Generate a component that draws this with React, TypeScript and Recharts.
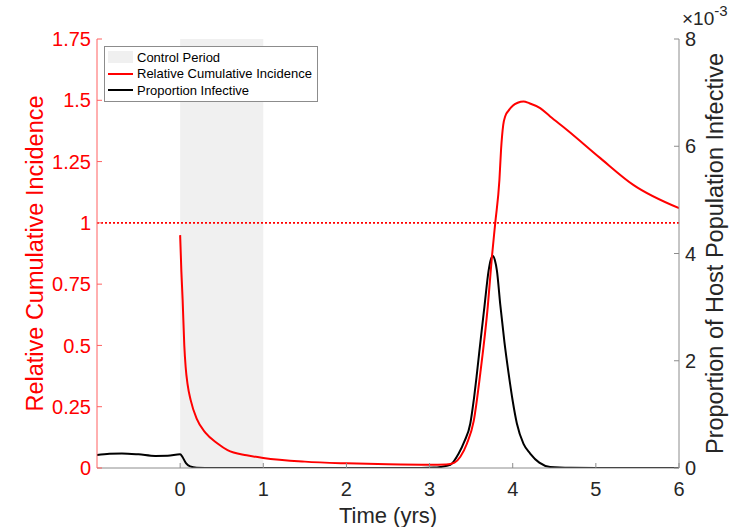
import React from "react";
import {
  Legend,
  Line,
  LineChart,
  ReferenceArea,
  ReferenceLine,
  XAxis,
  YAxis,
} from "recharts";

// relative cumulative incidence (left axis), starts when control begins
const ciTime = [
  0, 0.015, 0.03, 0.05, 0.066, 0.09, 0.126, 0.2, 0.306, 0.45, 0.57, 0.8, 1.0,
  1.5, 2.0, 2.5, 3.0, 3.2, 3.3, 3.37, 3.45, 3.53, 3.61, 3.7, 3.75, 3.79, 3.84,
  3.86, 3.886, 3.91, 3.95, 4.0, 4.06, 4.13, 4.2, 4.33, 4.45, 4.65, 5.05, 5.45,
  6.0,
];
const ciValue = [
  0.95, 0.8, 0.686, 0.5, 0.413, 0.34, 0.278, 0.2, 0.143, 0.1, 0.073, 0.052,
  0.041, 0.026, 0.019, 0.015, 0.013, 0.014, 0.022, 0.046, 0.1, 0.19, 0.386,
  0.658, 0.862, 1.0, 1.175, 1.3, 1.4, 1.435, 1.458, 1.478, 1.49, 1.495, 1.488,
  1.468, 1.434, 1.38, 1.265, 1.155, 1.06,
];

// proportion infective, in units of 1e-3 (right axis)
const infTime = [
  -1, -0.85, -0.7, -0.5, -0.3, -0.15, 0, 0.03, 0.07, 0.12, 0.2, 0.4, 1, 2, 2.9,
  3.05, 3.13, 3.25, 3.35, 3.42, 3.49, 3.53, 3.57, 3.615, 3.66, 3.71, 3.735,
  3.762, 3.785, 3.81, 3.85, 3.9, 3.95, 4.0, 4.05, 4.13, 4.21, 4.32, 4.45, 4.7,
  5, 6,
];
const infValue = [
  0.243, 0.265, 0.272, 0.255, 0.226, 0.228, 0.255, 0.2, 0.09, 0.03, 0.006,
  0.001, 0, 0, 0.002, 0.008, 0.02, 0.06, 0.27, 0.5, 0.83, 1.25, 1.77, 2.4,
  3.01, 3.68, 3.88, 3.955, 3.88, 3.68, 3.05, 2.35, 1.77, 1.25, 0.83, 0.45,
  0.27, 0.1, 0.02, 0.003, 0, 0,
];

const xTicks = [0, 1, 2, 3, 4, 5, 6];
const leftTicks = [0, 0.25, 0.5, 0.75, 1, 1.25, 1.5, 1.75];
const rightTicks = [0, 2, 4, 6, 8];
const controlPeriod = [0, 1];
const threshold = 1;

const ciData = ciTime.map((t, i) => ({ t, v: ciValue[i] }));
const infData = infTime.map((t, i) => ({ t, v: infValue[i] }));

const font = "'Liberation Sans', Arial, Helvetica, sans-serif";
const axisGray = "#8c8c8c";
const textDark = "#262626";

function LegendBox() {
  const row = { display: "flex", alignItems: "center", height: 16.5 };
  const label = { marginLeft: 4, whiteSpace: "nowrap" as const };
  return (
    <div
      style={{
        border: `1px solid ${axisGray}`,
        background: "#fff",
        padding: "2px 5px 2px 3px",
        fontFamily: font,
        fontSize: 13,
        color: "#000",
      }}
    >
      <div style={row}>
        <span style={{ width: 25, height: 12, background: "#f0f0f0" }} />
        <span style={label}>Control Period</span>
      </div>
      <div style={row}>
        <span style={{ width: 25, height: 2, background: "#ff0000" }} />
        <span style={label}>Relative Cumulative Incidence</span>
      </div>
      <div style={row}>
        <span style={{ width: 25, height: 2, background: "#000" }} />
        <span style={label}>Proportion Infective</span>
      </div>
    </div>
  );
}

export default function App() {
  return (
    <div style={{ position: "absolute", left: 0, top: 0 }}>
      <LineChart
        width={750}
        height={527}
        margin={{ top: 39, right: 0, bottom: 0, left: 0 }}
        style={{ fontFamily: font }}
      >
        <ReferenceArea
          x1={controlPeriod[0]}
          x2={controlPeriod[1]}
          yAxisId="ci"
          fill="#f0f0f0"
          fillOpacity={1}
          stroke="none"
        />
        <XAxis
          dataKey="t"
          type="number"
          domain={[-1, 6]}
          ticks={xTicks}
          allowDataOverflow
          height={59}
          stroke={axisGray}
          tickSize={-5}
          tickMargin={19}
          tick={{ fill: textDark, fontSize: 20 }}
          label={() => (
            <text
              x={388}
              y={523}
              textAnchor="middle"
              fontSize={22}
              fill={textDark}
              fontFamily={font}
            >
              Time (yrs)
            </text>
          )}
        />
        <XAxis
          xAxisId="top"
          orientation="top"
          dataKey="t"
          type="number"
          domain={[-1, 6]}
          ticks={xTicks}
          height={0}
          stroke={axisGray}
          tickSize={-5}
          tick={false}
        />
        <YAxis
          yAxisId="ci"
          orientation="left"
          width={97}
          domain={[0, 1.75]}
          ticks={leftTicks}
          allowDataOverflow
          stroke="#ff6060"
          tickSize={-5}
          tickMargin={11}
          tick={{ fill: "#ff0000", fontSize: 20 }}
          label={() => (
            <text
              x={35}
              y={253.5}
              transform="rotate(-90 35 253.5)"
              textAnchor="middle"
              dominantBaseline="central"
              fontSize={23.5}
              fill="#ff0000"
              fontFamily={font}
            >
              Relative Cumulative Incidence
            </text>
          )}
        />
        <YAxis
          yAxisId="ciMirror"
          orientation="right"
          width={0}
          domain={[0, 1.75]}
          ticks={leftTicks}
          axisLine={false}
          stroke="#ff6060"
          tickSize={-5}
          tick={false}
        />
        <YAxis
          yAxisId="inf"
          orientation="right"
          width={71}
          domain={[0, 8]}
          ticks={rightTicks}
          allowDataOverflow
          stroke={axisGray}
          tickSize={-5}
          tickMargin={11}
          tick={{ fill: textDark, fontSize: 20 }}
          label={() => (
            <g fontFamily={font} fill={textDark}>
              <text
                x={715}
                y={253.5}
                transform="rotate(-90 715 253.5)"
                textAnchor="middle"
                dominantBaseline="central"
                fontSize={23.5}
              >
                Proportion of Host Population Infective
              </text>
              <text x={682} y={25} style={{ fontSize: 19 }}>
                ×10
                <tspan dy={-9} style={{ fontSize: 15 }}>
                  -3
                </tspan>
              </text>
            </g>
          )}
        />
        <ReferenceLine
          y={threshold}
          yAxisId="ci"
          stroke="#ff0000"
          strokeWidth={1.6}
          strokeDasharray="2 2"
        />
        <Line
          data={infData}
          dataKey="v"
          yAxisId="inf"
          type="monotone"
          stroke="#000000"
          strokeWidth={2}
          dot={false}
          isAnimationActive={false}
        />
        <Line
          data={ciData}
          dataKey="v"
          yAxisId="ci"
          type="monotone"
          stroke="#ff0000"
          strokeWidth={2}
          dot={false}
          isAnimationActive={false}
        />
        <Legend
          layout="vertical"
          align="center"
          verticalAlign="middle"
          content={() => <LegendBox />}
          wrapperStyle={{ left: 104, top: 46, width: "auto", height: "auto" }}
        />
      </LineChart>
    </div>
  );
}
